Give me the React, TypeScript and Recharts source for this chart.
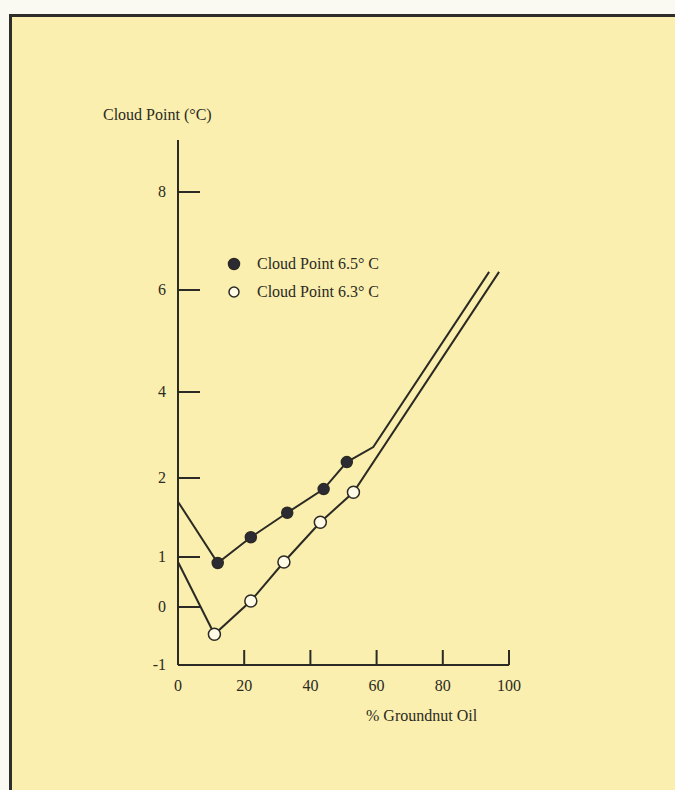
import React from 'react';
import { Label, Legend, Line, LineChart, XAxis, YAxis } from 'recharts';

// % groundnut oil vs cloud point, two blends
const closedPct = [0, 12, 22, 33, 44, 51, 59, 94];
const closedCloud = [1.7, 0.88, 1.25, 1.56, 1.86, 2.37, 2.72, 6.37];
const closedMeasured = [false, true, true, true, true, true, false, false];

const openPct = [0, 11, 22, 32, 43, 53, 97];
const openCloud = [0.9, -0.47, 0.12, 0.9, 1.44, 1.82, 6.37];
const openMeasured = [false, true, true, true, true, true, false];

const seriesNames = ['Cloud Point 6.5° C', 'Cloud Point 6.3° C'];

const xTicks = [0, 20, 40, 60, 80, 100];
const yTicks = [-1, 0, 1, 2, 4, 6, 8];

// the printed y axis is not evenly spaced: where each tick sits along it
const yTickPlace = [0, 58, 108, 187, 273, 375, 473];
const yAxisLength = 525;

const toAxis = (v: number) => {
  let i = 0;
  while (i < yTicks.length - 2 && v > yTicks[i + 1]) i++;
  const t = (v - yTicks[i]) / (yTicks[i + 1] - yTicks[i]);
  return yTickPlace[i] + t * (yTickPlace[i + 1] - yTickPlace[i]);
};

const closedData = closedPct.map((x, i) => ({ x, y: toAxis(closedCloud[i]), measured: closedMeasured[i] }));
const openData = openPct.map((x, i) => ({ x, y: toAxis(openCloud[i]), measured: openMeasured[i] }));

const INK = '#2b2a24';
const FONT = '"Liberation Serif", "Times New Roman", serif';

const YTick = (props: any) => {
  const { x, y, index } = props;
  return (
    <g>
      {index > 0 && <line x1={x} y1={y} x2={x + 22} y2={y} stroke={INK} strokeWidth={2} />}
      <text x={x - 12} y={y + 5} textAnchor="end" fill={INK} fontSize={16} fontFamily={FONT}>
        {yTicks[index]}
      </text>
    </g>
  );
};

const XTick = (props: any) => {
  const { x, y, payload, index } = props;
  return (
    <g>
      {index > 0 && <line x1={x} y1={y} x2={x} y2={y - 15} stroke={INK} strokeWidth={2} />}
      <text x={x} y={y + 26} textAnchor="middle" fill={INK} fontSize={16} fontFamily={FONT}>
        {payload.value}
      </text>
    </g>
  );
};

const makeDot = (filled: boolean) => (props: any) => {
  const { cx, cy, payload, index } = props;
  if (!payload.measured) return <g key={index} />;
  return (
    <circle
      key={index}
      cx={cx}
      cy={cy}
      r={filled ? 5.5 : 6}
      fill={filled ? '#2c2b33' : '#fffbe6'}
      stroke={INK}
      strokeWidth={1.5}
    />
  );
};

const LegendBox = () => (
  <div style={{ fontFamily: FONT, fontSize: 16, color: INK }}>
    {seriesNames.map((name, i) => (
      <div key={name} style={{ display: 'flex', alignItems: 'center', height: 28 }}>
        <svg width={14} height={14} style={{ marginRight: 16 }}>
          <circle
            cx={7}
            cy={7}
            r={i === 0 ? 5.5 : 5}
            fill={i === 0 ? '#2c2b33' : '#fffbe6'}
            stroke={INK}
            strokeWidth={1.5}
          />
        </svg>
        <span>{name}</span>
      </div>
    ))}
  </div>
);

export default function App() {
  return (
    <div style={{ position: 'fixed', inset: 0, overflow: 'hidden', background: '#fbfaf2' }}>
      <div
        style={{
          position: 'absolute',
          left: 9,
          top: 14,
          width: 720,
          height: 820,
          background: '#faefae',
          borderTop: '3px solid #2e2d2a',
          borderLeft: '3px solid #2e2d2a',
        }}
      />
      <div style={{ position: 'absolute', left: 0, top: 0 }}>
        <LineChart width={675} height={790} margin={{ top: 140, right: 166, bottom: 95, left: 138 }}>
          <XAxis
            type="number"
            dataKey="x"
            domain={[0, 100]}
            ticks={xTicks}
            interval={0}
            height={30}
            tickSize={0}
            tickMargin={0}
            tickLine={false}
            tick={XTick}
            axisLine={{ stroke: INK, strokeWidth: 2 }}
          >
            <Label
              content={({ viewBox }: any) => (
                <text x={viewBox.x + 188} y={viewBox.y + 56} fill={INK} fontSize={16} fontFamily={FONT}>
                  % Groundnut Oil
                </text>
              )}
            />
          </XAxis>
          <YAxis
            type="number"
            dataKey="y"
            domain={[0, yAxisLength]}
            ticks={yTickPlace}
            interval={0}
            width={40}
            tickSize={0}
            tickMargin={0}
            tickLine={false}
            tick={YTick}
            axisLine={{ stroke: INK, strokeWidth: 2 }}
          >
            <Label
              content={({ viewBox }: any) => (
                <text x={viewBox.x - 35} y={viewBox.y - 20} fill={INK} fontSize={16} fontFamily={FONT}>
                  Cloud Point (°C)
                </text>
              )}
            />
          </YAxis>
          <Legend
            layout="vertical"
            align="center"
            verticalAlign="middle"
            content={LegendBox}
            wrapperStyle={{ left: 227, top: 250, width: 240 }}
          />
          <Line
            data={closedData}
            dataKey="y"
            name={seriesNames[0]}
            stroke={INK}
            strokeWidth={2}
            dot={makeDot(true)}
            activeDot={false}
            isAnimationActive={false}
          />
          <Line
            data={openData}
            dataKey="y"
            name={seriesNames[1]}
            stroke={INK}
            strokeWidth={2}
            dot={makeDot(false)}
            activeDot={false}
            isAnimationActive={false}
          />
        </LineChart>
      </div>
    </div>
  );
}
